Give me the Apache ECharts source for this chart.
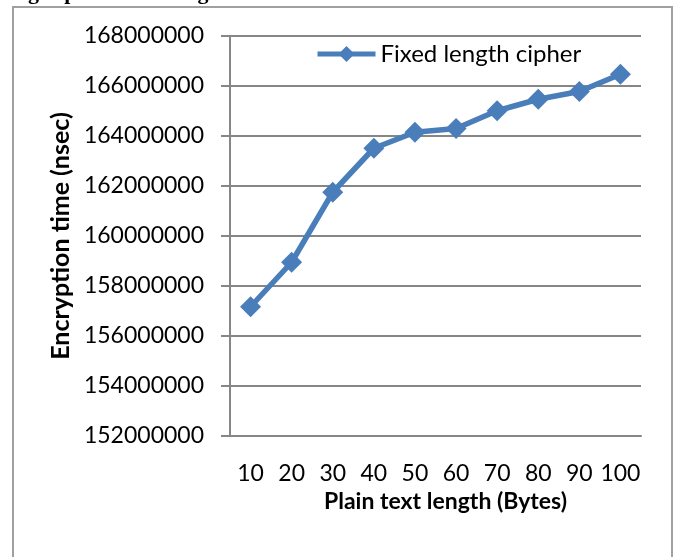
<!DOCTYPE html>
<html>
<head>
<meta charset="utf-8">
<script src="https://cdn.jsdelivr.net/npm/echarts@6/dist/echarts.min.js"></script>
<style>
  html, body { margin: 0; padding: 0; background: #fff; }
  #main { width: 677px; height: 557px; }
</style>
</head>
<body>
<div id="main"></div>
<script>
// 数据
var lengths = ["10", "20", "30", "40", "50", "60", "70", "80", "90", "100"];
var encryptTime = [157170000, 158950000, 161750000, 163510000, 164150000,
                   164300000, 165010000, 165470000, 165780000, 166470000];
var yMin = 152000000;
var yMax = 168000000;
var yStep = 2000000;

var chart = echarts.init(document.getElementById("main"));
chart.setOption({
  animation: false,
  backgroundColor: "#fff",
  // 外框 + 上方被截掉的标题
  graphic: [
    {
      type: "rect",
      shape: { x: 13, y: 7, width: 659, height: 570 },
      style: { fill: "none", stroke: "#a0a0a0", lineWidth: 2 },
      z: -1
    },
    {
      type: "text",
      x: 0,
      y: -7,
      style: {
        text: "length plain text using AES",
        font: "bold 22px 'Liberation Serif'",
        fill: "#000",
        verticalAlign: "middle"
      }
    }
  ],
  legend: {
    left: 310,
    top: 37,
    itemWidth: 58,
    itemHeight: 20,
    data: ["Fixed length cipher"],
    lineStyle: { width: 5 },
    textStyle: { fontFamily: "Lato", fontSize: 24, color: "#000" }
  },
  grid: { left: 230, right: 36, top: 36, bottom: 121 },
  xAxis: {
    type: "category",
    data: lengths,
    name: "Plain text length (Bytes)",
    nameLocation: "middle",
    nameGap: 49,
    nameTextStyle: {
      fontFamily: "Lato", fontSize: 23, fontWeight: "bold", color: "#000",
      padding: [0, 0, 0, 20]
    },
    axisLine: { lineStyle: { color: "#868686", width: 2 } },
    axisTick: { show: false },
    axisLabel: { interval: 0, fontFamily: "Lato", fontSize: 23, color: "#000", margin: 26 }
  },
  yAxis: {
    type: "value",
    min: yMin,
    max: yMax,
    interval: yStep,
    name: "Encryption time (nsec)",
    nameLocation: "middle",
    nameGap: 149,
    nameTextStyle: { fontFamily: "Lato", fontSize: 25, fontWeight: "bold", color: "#000" },
    axisLine: { show: true, lineStyle: { color: "#868686", width: 2 } },
    axisTick: { show: true, length: 9, lineStyle: { color: "#868686", width: 2 } },
    axisLabel: {
      fontFamily: "Lato", fontSize: 23, color: "#000", margin: 26,
      formatter: function (v) { return String(v); }
    },
    splitLine: { lineStyle: { color: "#868686", width: 2 } }
  },
  series: [
    {
      name: "Fixed length cipher",
      type: "line",
      data: encryptTime,
      symbol: "diamond",
      symbolSize: 21,
      color: "#4a7ebb",
      lineStyle: { width: 5.5, color: "#4a7ebb" },
      itemStyle: { color: "#4a7ebb" }
    }
  ]
});
</script>
</body>
</html>
